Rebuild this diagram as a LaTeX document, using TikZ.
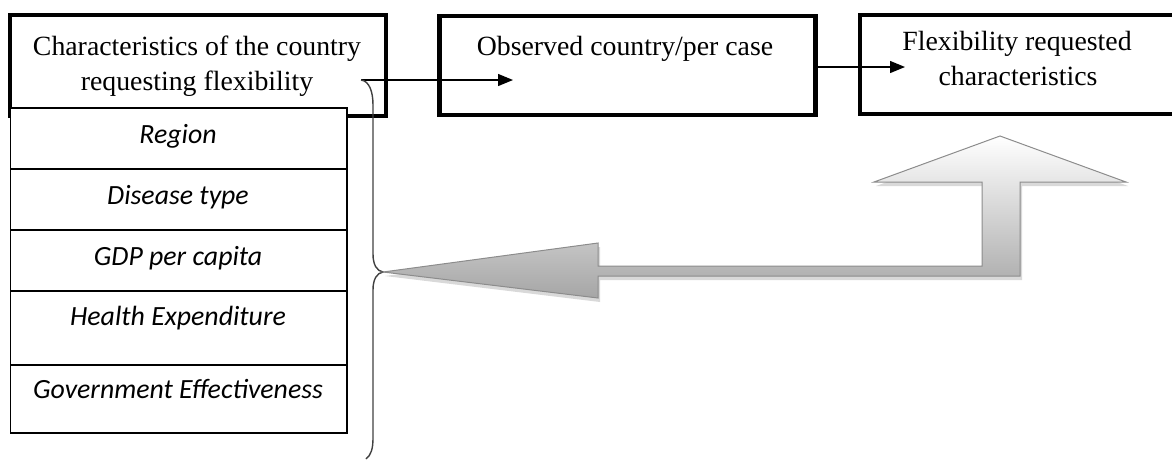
\documentclass[tikz,border=0pt]{standalone}
\usepackage{fontspec}
\setmainfont{Liberation Serif}
\newfontfamily\calib{Carlito}
\usetikzlibrary{arrows.meta}
\begin{document}
\begin{tikzpicture}[x=1pt,y=-1pt,
  bigbox/.style={draw=black,line width=4.5pt,fill=white,inner sep=0pt,rectangle},
  cell/.style={draw=black,line width=1.3pt,fill=white,inner sep=0pt,rectangle,minimum width=336.5pt},
  serif/.style={font=\fontsize{27.8}{33}\selectfont,anchor=base,inner sep=0pt},
  celltext/.style={font=\calib\itshape\fontsize{27.8}{32}\selectfont,anchor=base,inner sep=0pt},
  arr/.style={line width=1.3pt,-{Triangle[length=15pt,width=12pt]}},
  bracestyle/.style={draw=black!75,line width=1.4pt},
  blockarrow/.style={draw=black!45,line width=1pt,top color=white,bottom color=black!35}]
\useasboundingbox (0,0) rectangle (1172,459);
% boxes
\node[bigbox,minimum width=376pt,minimum height=101pt] (b1) at (198,65.5) {};
\node[bigbox,minimum width=376pt,minimum height=99pt] (b2) at (627.5,65.5) {};
\node[bigbox,minimum width=330pt,minimum height=99pt] (b3) at (1025,64.5) {};
\node[serif] (t1a) at (197,55) {Characteristics of the country};
\node[serif] (t1b) at (197,90) {requesting flexibility};
\node[serif] (t2) at (625,55) {Observed country/per case};
\node[serif] (t3a) at (1017,50) {Flexibility requested};
\node[serif] (t3b) at (1018,85) {characteristics};
% table
\node[cell,minimum height=61pt] (r1) at (178.75,138.5) {};
\node[cell,minimum height=61pt] (r2) at (178.75,199.5) {};
\node[cell,minimum height=61pt] (r3) at (178.75,260.5) {};
\node[cell,minimum height=74pt] (r4) at (178.75,328) {};
\node[cell,minimum height=68pt] (r5) at (178.75,399) {};
\node[celltext] (c1) at (178,143) {Region};
\node[celltext] (c2) at (178,204) {Disease type};
\node[celltext] (c3) at (178,265) {GDP per capita};
\node[celltext] (c4) at (178,325) {Health Expenditure};
\node[celltext] (c5) at (178,398) {Government Effectiveness};
% connectors
\coordinate (s1) at (361,80);
\coordinate (e1) at (513,80);
\coordinate (e2) at (905,67);
\draw[arr] (s1) -- (e1);
\draw[arr] (b2.east |- e2) -- (e2);
% brace
\coordinate (btip) at (383,272);
\coordinate (bend) at (366,459);
\draw[bracestyle] (s1) .. controls (369,81) and (373,91) .. (373,105) -- (373,254)
  .. controls (373,265) and (377,271) .. (btip)
  .. controls (377,273) and (373,279) .. (373,290) -- (373,438)
  .. controls (373,449) and (371,455) .. (bend);
% block arrow shadow
\fill[black!25,opacity=0.6] ([shift={(2,4)}]btip) -- ++(215,-29) -- ++(0,23) -- ++(384,0) -- ++(0,-84)
  -- ++(-108,0) -- ++(126,-46) -- ++(126,46) -- ++(-106,0) -- ++(0,94) -- ++(-422,0)
  -- ++(0,22) -- cycle;
% block arrow
\shade[blockarrow] (btip) -- (598,243) -- (598,266) -- (982,266) -- (982,182) -- (874,182)
  -- (1000,136) -- (1126,182) -- (1020,182) -- (1020,276) -- (598,276) -- (598,298) -- cycle;
\end{tikzpicture}
\end{document}
